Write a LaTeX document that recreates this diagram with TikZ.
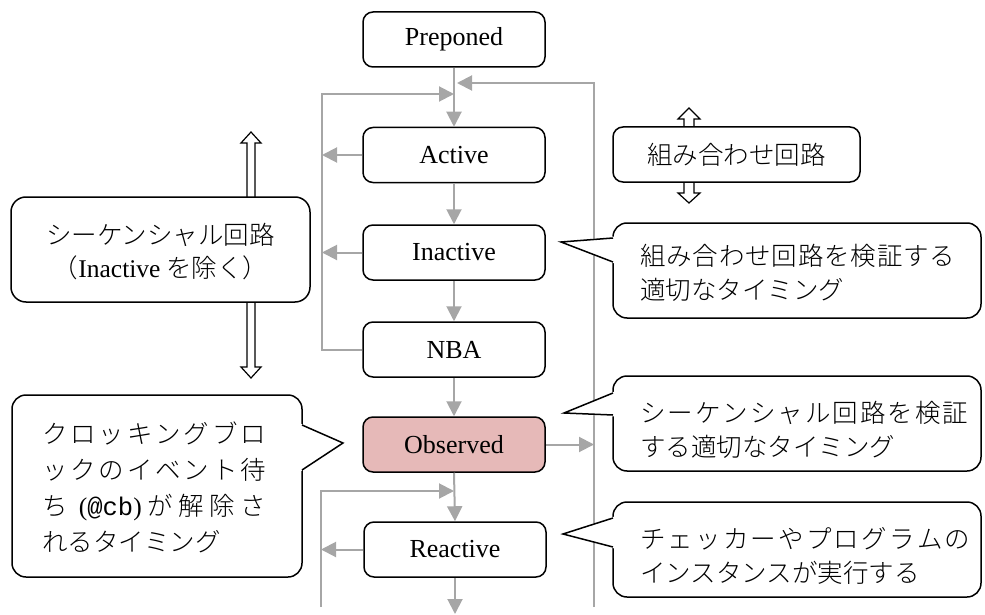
\documentclass[tikz,border=0pt]{standalone}
\usepackage{fontspec}
\setmainfont{Liberation Serif}
\setmonofont{Liberation Mono}
\newfontfamily\jp{Noto Sans CJK JP}[UprightFont={* Light}]
\usetikzlibrary{arrows.meta}
\definecolor{flowgray}{HTML}{A6A6A6}
\definecolor{obsfill}{HTML}{E6B9B8}
\begin{document}
\begin{tikzpicture}[x=1pt,y=-1pt,
  stagebox/.style={draw=black, line width=1.5pt, rounded corners=10pt, fill=white,
    minimum width=182pt, minimum height=55pt, inner sep=0pt, font=\fontsize{26}{30}\selectfont},
  flow/.style={draw=flowgray, line width=2pt, -{Triangle[length=15pt,width=15pt]}},
  bubblebox/.style={draw=black, line width=1.5pt, fill=white, rounded corners=14pt, inner sep=0pt},
  pointer/.style={draw=black, line width=1.5pt, line join=miter},
  blockarrow/.style={draw=black, line width=1.2pt, fill=white, line join=miter},
  jtext/.style={font=\jp\fontsize{25.5}{34}\selectfont, align=left, inner sep=0pt},
  jctext/.style={font=\jp\fontsize{25.5}{33}\selectfont, align=center, inner sep=0pt}
]
\useasboundingbox (0,0) rectangle (985,615);

% hollow block arrows
\draw[blockarrow] (247,199) -- (247,143) -- (241,143) -- (251,132) -- (261,143) -- (255,143) -- (255,199);
\draw[blockarrow] (247,300) -- (247,367) -- (241,367) -- (251,378) -- (261,367) -- (255,367) -- (255,300);
\draw[blockarrow] (684,129) -- (684,119) -- (678,119) -- (689,108) -- (700,119) -- (694,119) -- (694,129);
\draw[blockarrow] (684,180) -- (684,193) -- (678,193) -- (689,203) -- (700,193) -- (694,193) -- (694,180);

% side boxes
\node[bubblebox, rounded corners=15pt, minimum width=299pt, minimum height=105pt] (seq) at (160.5,249.5) {};
\node[jctext] (seqt) at (160.5,251.5) {シーケンシャル回路\\（{\rmfamily Inactive} を除く）};
\node[bubblebox, rounded corners=10pt, minimum width=247pt, minimum height=55pt, font=\jp\fontsize{25.5}{30}\selectfont] (comb) at (736.5,154.5) {組み合わせ回路};

% stages
\node[stagebox] (pre) at (454,39.5) {Preponed};
\node[stagebox] (act) at (454,155) {Active};
\node[stagebox] (inact) at (454,252.5) {Inactive};
\node[stagebox] (nba) at (454,349.5) {NBA};
\node[stagebox, fill=obsfill] (obs) at (454,444.5) {Observed};
\node[stagebox] (react) at (455,549.5) {Reactive};

% helper coordinates
\coordinate (lt) at (322,94);
\coordinate (lj) at (454,94);
\coordinate (rt) at (594,83);
\coordinate (rb) at (594,607);
\coordinate (rj) at (457,83);
\coordinate (lb) at (321,607);
\coordinate (lm) at (321,491);
\coordinate (lj2) at (454,491);
\coordinate (bend) at (455,614);

% connectors
\draw[flow] (pre.south) -- (act.north);
\draw[flow] (act.south) -- (inact.north);
\draw[flow] (inact.south) -- (nba.north);
\draw[flow] (nba.south) -- (obs.north);
\draw[flow] (obs.south) -- (react.north);
\draw[flow] (react.south) -- (bend);
\draw[flow] (nba.west) -| (lt) -- (lj);
\draw[flow] (act.west) -- (act.west -| lt);
\draw[flow] (inact.west) -- (inact.west -| lt);
\draw[flow] (rb) -- (rt) -- (rj);
\draw[flow] (obs.east) -- (obs.east -| rt);
\draw[flow] (lb) -- (lm) -- (lj2);
\draw[flow] (react.west) -- (react.west -| lb);

% callout 1
\node[bubblebox, minimum width=368pt, minimum height=95pt] (c1) at (797,270.5) {};
\fill[white] (614.6,236.5) -- (561,242) -- (614.6,263.5) -- cycle;
\draw[pointer] (613,238) -- (561,242) -- (613,262);
\node[jtext, anchor=west] (c1t) at (640,273) {\makebox[315pt][s]{組\hfil み\hfil 合\hfil わ\hfil せ\hfil 回\hfil 路\hfil を\hfil 検\hfil 証\hfil す\hfil る}\\適切なタイミング};

% callout 2
\node[bubblebox, minimum width=368pt, minimum height=95pt] (c2) at (797,423.5) {};
\fill[white] (614.6,391.5) -- (564,413) -- (614.6,416.5) -- cycle;
\draw[pointer] (613,393) -- (564,413) -- (613,415);
\node[jtext, anchor=west] (c2t) at (640,429.5) {\makebox[328pt][s]{シ\hfil ー\hfil ケ\hfil ン\hfil シ\hfil ャ\hfil ル\hfil 回\hfil 路\hfil を\hfil 検\hfil 証}\\する適切なタイミング};

% callout 3
\node[bubblebox, minimum width=368pt, minimum height=95pt] (c3) at (797,549.5) {};
\fill[white] (614.6,516.5) -- (563,534) -- (614.6,548.5) -- cycle;
\draw[pointer] (613,518) -- (563,534) -- (613,547);
\node[jtext, anchor=west] (c3t) at (640,556) {\makebox[330pt][s]{チ\hfil ェ\hfil ッ\hfil カ\hfil ー\hfil や\hfil プ\hfil ロ\hfil グ\hfil ラ\hfil ム\hfil の}\\インスタンスが実行する};

% left callout
\node[bubblebox, minimum width=290pt, minimum height=182pt] (c0) at (157,486) {};
\fill[white] (300.4,423.5) -- (343,443) -- (300.4,471.5) -- cycle;
\draw[pointer] (302,425) -- (343,443) -- (302,470);
\node[jtext, anchor=west, font=\jp\fontsize{25.5}{36}\selectfont] (c0t) at (42,487.5) {%
\makebox[224pt][s]{ク\hfil ロ\hfil ッ\hfil キ\hfil ン\hfil グ\hfil ブ\hfil ロ}\\
\makebox[224pt][s]{ッ\hfil ク\hfil の\hfil イ\hfil ベ\hfil ン\hfil ト\hfil 待}\\
\makebox[224pt][s]{ち\hfil\hfil{\rmfamily(}{\ttfamily @cb}{\rmfamily)}\hfil が\hfil 解\hfil 除\hfil さ}\\
れるタイミング};
\end{tikzpicture}
\end{document}
